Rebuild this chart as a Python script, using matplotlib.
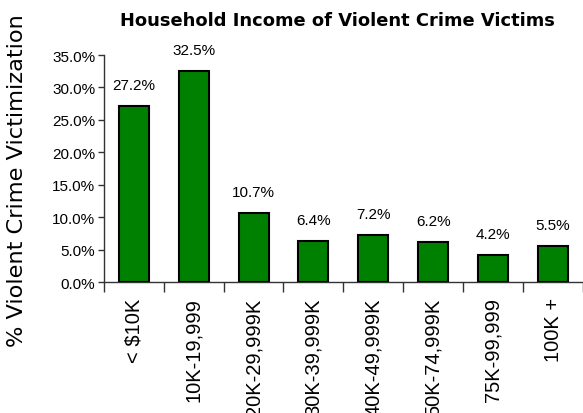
import matplotlib
matplotlib.use("Agg")
import matplotlib.pyplot as plt
import numpy as np
from matplotlib.ticker import FixedLocator, FuncFormatter

categories = ["< $10K", "10K-19,999", "20K-29,999K", "30K-39,999K", "40K-49,999K",
              "50K-74,999K", "75K-99,999", "100K +"]
values = [27.2, 32.5, 10.7, 6.4, 7.2, 6.2, 4.2, 5.5]
yticks = [0, 5, 10, 15, 20, 25, 30, 35]

fig = plt.figure(figsize=(5.83, 4.14), dpi=100)
ax = fig.add_axes([0.178, 0.3164, 0.822, 0.5483])

x = np.arange(len(categories))
ax.bar(x, values, width=0.5, color="#008000", edgecolor="black", linewidth=1.5, zorder=3)

for xi, v in zip(x, values):
    ax.annotate(f"{v:.1f}%", (xi, v), xytext=(0, 10), textcoords="offset points",
                ha="center", va="bottom", fontsize=11, family="Liberation Sans")

ax.set_xlim(-0.5, len(categories) - 0.5)
ax.set_ylim(0, 35)
ax.set_yticks(yticks)
ax.yaxis.set_major_formatter(FuncFormatter(lambda v, p: f"{v:.1f}%"))
for lab in ax.get_yticklabels():
    lab.set_family("Liberation Sans")
    lab.set_fontsize(11)
ax.tick_params(axis="y", length=4, width=1, pad=2, color="#333333")

ax.set_xticks(x)
ax.set_xticklabels(categories, rotation=90, fontsize=14.5, family="Liberation Sans", va="top")
ax.tick_params(axis="x", which="major", length=0, pad=11)
ax.xaxis.set_minor_locator(FixedLocator(np.arange(len(categories) + 1) - 0.5))
ax.tick_params(axis="x", which="minor", length=7, width=1, color="#333333")

for s in ["top", "right"]:
    ax.spines[s].set_visible(False)
for s in ["left", "bottom"]:
    ax.spines[s].set_color("#333333")
    ax.spines[s].set_linewidth(1)

fig.text(0.579, 0.950, "Household Income of Violent Crime Victims", ha="center", va="center",
         fontsize=12.9, fontweight="bold", family="DejaVu Sans")
fig.text(0.029, 0.563, "% Violent Crime Victimization", rotation=90, ha="center", va="center",
         fontsize=16.2, family="DejaVu Sans")

fig.savefig("out.png", dpi=100)
